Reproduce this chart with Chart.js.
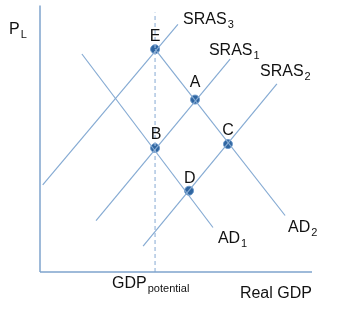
<!DOCTYPE html>
<html>
<head>
<meta charset="utf-8">
<script src="https://cdn.jsdelivr.net/npm/chart.js@4/dist/chart.umd.min.js"></script>
<style>
  html, body { margin: 0; padding: 0; background: #fff; }
  #wrap { position: relative; width: 342px; height: 316px; }
</style>
</head>
<body>
<div id="wrap"><canvas id="adas"></canvas></div>
<script>
// curves, in (real GDP, price level) units, axis runs 0..10 both ways
const sras3 = [{ x: 0.1, y: 3.27 }, { x: 5.07, y: 9.29 }];
const sras1 = [{ x: 2.06, y: 1.93 }, { x: 6.99, y: 7.99 }];
const sras2 = [{ x: 3.79, y: 0.97 }, { x: 8.71, y: 7.06 }];
const ad1 = [{ x: 1.54, y: 8.18 }, { x: 6.36, y: 1.67 }];
const ad2 = [{ x: 4.23, y: 8.36 }, { x: 9.01, y: 2.12 }];
const potentialGdp = 4.23;
const potentialTop = 9.74;

// equilibrium points
const pointNames = ["E", "A", "B", "C", "D"];
const pointX = [4.23, 5.7, 4.23, 6.91, 5.48];
const pointY = [8.36, 6.47, 4.65, 4.8, 3.05];

// text labels: [text, subscript, x, y, align]
const labels = [
  ["P", "L", -1.14, 8.92, "left"],
  ["E", "", 4.23, 8.68, "center"],
  ["A", "", 5.7, 6.95, "center"],
  ["B", "", 4.27, 4.98, "center"],
  ["C", "", 6.91, 5.15, "center"],
  ["D", "", 5.51, 3.35, "center"],
  ["SRAS", "3", 5.26, 9.29, "left"],
  ["SRAS", "1", 6.21, 8.14, "left"],
  ["SRAS", "2", 8.09, 7.35, "left"],
  ["AD", "1", 6.54, 1.08, "left"],
  ["AD", "2", 9.12, 1.49, "left"],
  ["GDP", "potential", 2.65, -0.59, "left"],
  ["Real GDP", "", 7.35, -0.97, "left"],
];

const lineColor = "#86abd3";
const font = "'Liberation Sans', Arial, sans-serif";

function curve(data, extra = {}) {
  return {
    type: "line",
    data,
    borderColor: lineColor,
    borderWidth: 1.2,
    pointRadius: 0,
    showLine: true,
    fill: false,
    clip: false,
    ...extra,
  };
}

const textPlugin = {
  id: "textPlugin",
  afterDatasetsDraw(chart) {
    const { ctx, scales } = chart;
    ctx.save();
    ctx.fillStyle = "#111";
    ctx.textBaseline = "alphabetic";
    labels.forEach(([text, sub, lx, ly, align]) => {
      const px = scales.x.getPixelForValue(lx);
      const py = scales.y.getPixelForValue(ly);
      ctx.font = `16px ${font}`;
      const w = ctx.measureText(text).width;
      let left = align === "center" ? px - w / 2 : px;
      ctx.textAlign = "left";
      ctx.fillText(text, left, py);
      if (sub) {
        ctx.font = `11px ${font}`;
        ctx.fillText(sub, left + w + 1, py + 4);
      }
    });
    ctx.restore();
  },
};

new Chart(document.getElementById("adas"), {
  type: "scatter",
  data: {
    datasets: [
      curve([{ x: 0, y: 0 }, { x: 0, y: 10 }], { borderColor: "#7ea3cc", borderWidth: 1.5 }),
      curve([{ x: 0, y: 0 }, { x: 10, y: 0 }], { borderColor: "#7ea3cc", borderWidth: 1.5 }),
      curve([{ x: potentialGdp, y: 0 }, { x: potentialGdp, y: potentialTop }], { borderDash: [4, 3], borderColor: "#9ab8da" }),
      curve(sras3),
      curve(sras1),
      curve(sras2),
      curve(ad1),
      curve(ad2),
      {
        data: pointX.map((x, i) => ({ x, y: pointY[i] })),
        pointRadius: 4.5,
        pointBackgroundColor: "#2f65a0",
        pointBorderColor: "#6e9acb",
        pointBorderWidth: 1,
        clip: false,
      },
    ],
  },
  options: {
    responsive: true,
    maintainAspectRatio: false,
    animation: false,
    layout: { padding: { left: 40, right: 30, top: 3, bottom: 44 } },
    plugins: { legend: { display: false }, tooltip: { enabled: false } },
    scales: {
      x: { type: "linear", min: 0, max: 10, display: false },
      y: { type: "linear", min: 0, max: 10, display: false },
    },
  },
  plugins: [textPlugin],
});
</script>
</body>
</html>
